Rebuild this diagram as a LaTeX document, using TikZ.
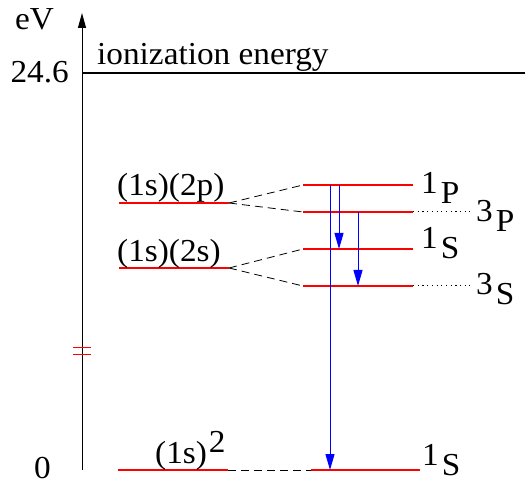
\documentclass[tikz,border=0pt]{standalone}
\usepackage{fontspec}
\setmainfont{Liberation Serif}
\newfontfamily\lbfont[FakeStretch=1.04]{Liberation Serif}
\usetikzlibrary{arrows.meta}
\newcommand{\trm}[2]{#1\hspace{3pt}\raisebox{-10pt}{#2}}
\begin{document}
\begin{tikzpicture}[x=1pt,y=-1pt,
  lvl/.style={red, line width=2pt},
  lbl/.style={inner sep=0pt, anchor=base west, font=\lbfont\fontsize{32}{36}\selectfont},
  split/.style={dash pattern=on 8pt off 5pt, line width=0.8pt},
  dotl/.style={dash pattern=on 1.2pt off 3.5pt, line width=1pt},
  trans/.style={blue, line width=1pt, -{Triangle[length=16pt,width=9pt]}},
  axis/.style={line width=1pt, -{Triangle[length=15pt,width=8pt]}},
  brk/.style={red, line width=1pt}]
\useasboundingbox (0,0) rectangle (525,486);
% axis
\coordinate (axb) at (82,470);
\coordinate (axt) at (82,13);
\draw[axis] (axb) -- (axt);
% ionization energy
\coordinate (ion0) at (82,73);
\coordinate (ion1) at (525,73);
\draw[line width=1.3pt] (ion0) -- (ion1);
% axis break marks
\draw[brk] (73,348) -- (91,348);
\draw[brk] (73,355) -- (91,355);
% left levels
\coordinate (L2pA) at (119,203); \coordinate (L2pB) at (229,203);
\coordinate (L2sA) at (119,268); \coordinate (L2sB) at (229,268);
\coordinate (L1A) at (118,470);  \coordinate (L1B) at (228,470);
\draw[lvl] (L2pA) -- (L2pB);
\draw[lvl] (L2sA) -- (L2sB);
\draw[lvl] (L1A) -- (L1B);
% right levels
\coordinate (R1PA) at (303,185); \coordinate (R1PB) at (413,185);
\coordinate (R3PA) at (303,212); \coordinate (R3PB) at (413,212);
\coordinate (R1SA) at (303,249); \coordinate (R1SB) at (413,249);
\coordinate (R3SA) at (303,286); \coordinate (R3SB) at (413,286);
\coordinate (RgA) at (311,470);  \coordinate (RgB) at (420,470);
\draw[lvl] (R1PA) -- (R1PB);
\draw[lvl] (R3PA) -- (R3PB);
\draw[lvl] (R1SA) -- (R1SB);
\draw[lvl] (R3SA) -- (R3SB);
\draw[lvl] (RgA) -- (RgB);
% splitting lines
\draw[split] (L2pB) -- (R1PA);
\draw[split] (L2pB) -- (R3PA);
\draw[split] (L2sB) -- (R1SA);
\draw[split] (L2sB) -- (R3SA);
\draw[split] (L1B) -- (RgA);
% dotted extensions
\coordinate (D3P) at (470,212);
\coordinate (D3S) at (470,286);
\draw[dotl] (R3PB) -- (D3P);
\draw[dotl] (R3SB) -- (D3S);
% transitions
\coordinate (T1a) at (330,185); \coordinate (T1b) at (330,470);
\coordinate (T2a) at (339,185); \coordinate (T2b) at (339,249);
\coordinate (T3a) at (358,212); \coordinate (T3b) at (358,286);
\draw[trans] (T1a) -- (T1b);
\draw[trans] (T2a) -- (T2b);
\draw[trans] (T3a) -- (T3b);
% labels
\node[lbl] (eV) at (15,30) {eV};
\node[lbl, anchor=base east] (v246) at (69,83) {24.6};
\node[lbl] (v0) at (34,478) {0};
\node[lbl] (ion) at (97,65) {ionization energy};
\node[lbl] (c2p) at (117,196) {(1s)(2p)};
\node[lbl] (c2s) at (117,262) {(1s)(2s)};
\node[lbl] (c1s) at (155,463) {(1s)\hspace{2pt}\raisebox{11pt}{2}};
\node[lbl] (t1P) at (421,194) {\trm{1}{P}};
\node[lbl] (t3P) at (476,222) {\trm{3}{P}};
\node[lbl] (t1S) at (421,249) {\trm{1}{S}};
\node[lbl] (t3S) at (476,295) {\trm{3}{S}};
\node[lbl] (tg1S) at (422,465) {\trm{1}{S}};
\end{tikzpicture}
\end{document}
